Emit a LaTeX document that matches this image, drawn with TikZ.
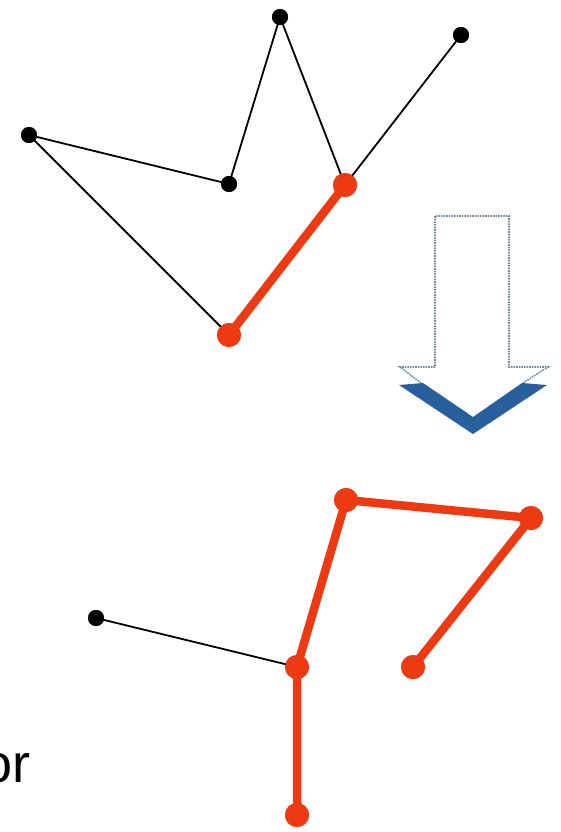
\documentclass[tikz,border=0pt]{standalone}
\usepackage{fontspec}
\setmainfont{Liberation Sans}
\definecolor{vred}{RGB}{238,58,18}
\definecolor{vblue}{RGB}{40,96,158}
\definecolor{dotgray}{RGB}{110,140,160}
\begin{document}
\begin{tikzpicture}[x=1pt,y=-1pt,
  blk/.style={circle,fill=black,inner sep=0pt,minimum size=16pt},
  rd/.style={circle,fill=vred,inner sep=0pt,minimum size=24pt},
  thin/.style={draw=black,line width=1.8pt},
  thick/.style={draw=vred,line width=8.5pt}]
\useasboundingbox (0,0) rectangle (560,832);
\clip (0,0) rectangle (560,832);
\fill[white] (0,0) rectangle (560,832);
% top graph
\node[blk] (A) at (29,135) {};
\node[blk] (B) at (229,184) {};
\node[blk] (C) at (280,17) {};
\node[blk] (D) at (461,35) {};
\node[rd] (E) at (345,185) {};
\node[rd] (F) at (229,335) {};
\begin{scope}[on background layer/.style={}]
\end{scope}
\draw[thin] (A.center) -- (B.center) -- (C.center) -- (E.center) -- (D.center);
\draw[thin] (A.center) -- (F.center);
\draw[thick] (E.center) -- (F.center);
\node[blk] at (A) {};
\node[blk] at (B) {};
\node[blk] at (C) {};
\node[blk] at (D) {};
\node[rd] at (E) {};
\node[rd] at (F) {};
% bottom graph
\node[blk] (G) at (96,618) {};
\node[rd] (H) at (297,667) {};
\node[rd] (I) at (346,500) {};
\node[rd] (J) at (531,518) {};
\node[rd] (K) at (413,667) {};
\node[rd] (L) at (297,815) {};
\draw[thin] (G.center) -- (H.center);
\draw[thick] (L.center) -- (H.center) -- (I.center) -- (J.center) -- (K.center);
\node[blk] at (G) {};
\node[rd] at (H) {};
\node[rd] at (I) {};
\node[rd] at (J) {};
\node[rd] at (K) {};
\node[rd] at (L) {};
% arrow
\coordinate (w1) at (421,383);
\coordinate (w2) at (400,367);
\coordinate (s1) at (435,367);
\coordinate (s2) at (435,216);
\coordinate (s3) at (509,216);
\coordinate (s4) at (509,367);
\coordinate (w3) at (548,367);
\coordinate (w4) at (523,383);
\draw[dotgray,densely dotted,line width=1.6pt] (w1) -- (w2) -- (s1) -- (s2) -- (s3) -- (s4) -- (w3) -- (w4);
\coordinate (c1) at (399,385);
\coordinate (c2) at (423,383);
\coordinate (c3) at (473,417);
\coordinate (c4) at (522,383);
\coordinate (c5) at (547,385);
\coordinate (c6) at (473,434);
\fill[vblue] (c1) -- (c2) -- (c3) -- (c4) -- (c5) -- (c6) -- cycle;
% text
\node[anchor=base east,inner sep=0pt,font=\fontsize{54}{60}\selectfont] (or) at (31,782) {or};
\end{tikzpicture}
\end{document}
